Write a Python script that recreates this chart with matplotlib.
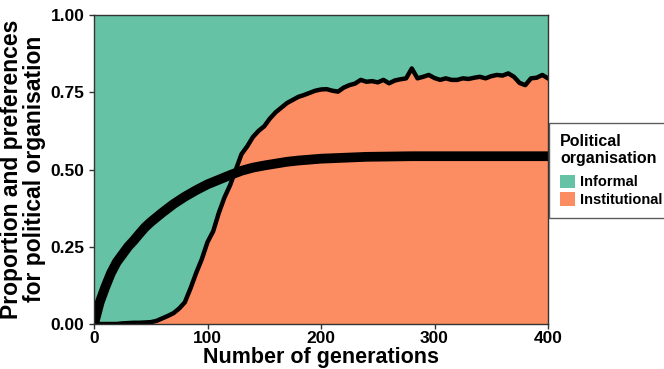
import matplotlib
matplotlib.use("Agg")
import matplotlib.pyplot as plt
from matplotlib.patches import Patch
import numpy as np

# Institutional proportion (every 5 generations)
inst_gen = list(range(0, 401, 5))
inst_val = [0, 0, 0, 0, 0, 0.002, 0.003, 0.004, 0.004, 0.005, 0.006, 0.01, 0.018, 0.026, 0.035, 0.05,
            0.07, 0.115, 0.165, 0.21, 0.265, 0.3, 0.36, 0.41, 0.45, 0.5, 0.55, 0.575, 0.605, 0.625,
            0.64, 0.665, 0.685, 0.7, 0.715, 0.725, 0.735, 0.741, 0.748, 0.755, 0.759, 0.76, 0.755,
            0.752, 0.765, 0.773, 0.778, 0.79, 0.784, 0.786, 0.782, 0.79, 0.779, 0.788, 0.792, 0.795,
            0.827, 0.795, 0.8, 0.806, 0.796, 0.79, 0.795, 0.79, 0.79, 0.795, 0.793, 0.797, 0.8, 0.795,
            0.802, 0.806, 0.804, 0.811, 0.8, 0.78, 0.773, 0.795, 0.797, 0.806, 0.795]

# Preferences for institutional organisation
pref_gen = [0, 5, 10, 15, 20, 25, 30, 35, 40, 45, 50, 60, 70, 80, 90, 100, 110, 120, 130, 140, 150,
            160, 170, 180, 190, 200, 220, 240, 260, 280, 300, 320, 340, 360, 380, 400]
pref_val = [0.0, 0.07, 0.12, 0.165, 0.2, 0.225, 0.25, 0.27, 0.292, 0.313, 0.33, 0.36, 0.388, 0.412,
            0.433, 0.452, 0.467, 0.482, 0.496, 0.506, 0.513, 0.519, 0.525, 0.529, 0.532, 0.535, 0.538,
            0.541, 0.542, 0.543, 0.543, 0.543, 0.543, 0.543, 0.543, 0.543]

categories = ["Informal", "Institutional"]
colors = ["#66C2A5", "#FC8D62"]

plt.rcParams['font.family'] = ['Liberation Sans', 'DejaVu Sans']
fig = plt.figure(figsize=(6.64, 3.69), dpi=100)
W, H = 664, 369
ax = fig.add_axes([94 / W, 1 - 324 / H, 454 / W, 309 / H])

g = np.array(inst_gen, dtype=float)
v = np.array(inst_val)
ax.fill_between(g, 0, v, color=colors[1], linewidth=0)
ax.fill_between(g, v, 1, color=colors[0], linewidth=0)
ax.plot(g, v, color="black", linewidth=3.2, solid_joinstyle="round")
ax.plot(pref_gen, pref_val, color="black", linewidth=7.0, solid_capstyle="butt")

ax.set_xlim(0, 400)
ax.set_ylim(0, 1)
ax.set_xticks([0, 100, 200, 300, 400])
ax.set_yticks([0, 0.25, 0.5, 0.75, 1.0])
ax.set_yticklabels(["0.00", "0.25", "0.50", "0.75", "1.00"])
ax.tick_params(direction="out", length=3.5, width=1, color="#333333", labelsize=12.5, pad=1.5)
ax.tick_params(axis="y", pad=3.5)
for lab in ax.get_xticklabels() + ax.get_yticklabels():
    lab.set_fontweight("bold")
for s in ax.spines.values():
    s.set_color("#333333")
    s.set_linewidth(1.0)

fig.text(23 / W, 1 - 169 / H, "Proportion and preferences\nfor political organisation",
         rotation=90, ha="center", va="center", fontsize=16.5, fontweight="bold",
         multialignment="center", linespacing=0.95)
fig.text(321 / W, (H - 363.5) / H, "Number of generations", ha="center", va="baseline",
         fontsize=15.5, fontweight="bold")

handles = [Patch(facecolor=c, edgecolor="none") for c in colors]
leg = fig.legend(handles, categories, title="Political\norganisation", loc="upper left",
                 bbox_to_anchor=(549 / W, 1 - 123 / H), frameon=True, fancybox=False,
                 prop={"weight": "bold", "size": 10.5}, title_fontproperties={"weight": "bold", "size": 11.5},
                 handlelength=1.05, handleheight=1.05, handletextpad=0.3, labelspacing=0.2,
                 borderpad=0.75, borderaxespad=0)
leg._legend_box.align = "left"
leg._legend_box.sep = 6
leg.get_frame().set_edgecolor("#333333")
leg.get_frame().set_linewidth(1.0)

fig.savefig("out.png", dpi=100)
